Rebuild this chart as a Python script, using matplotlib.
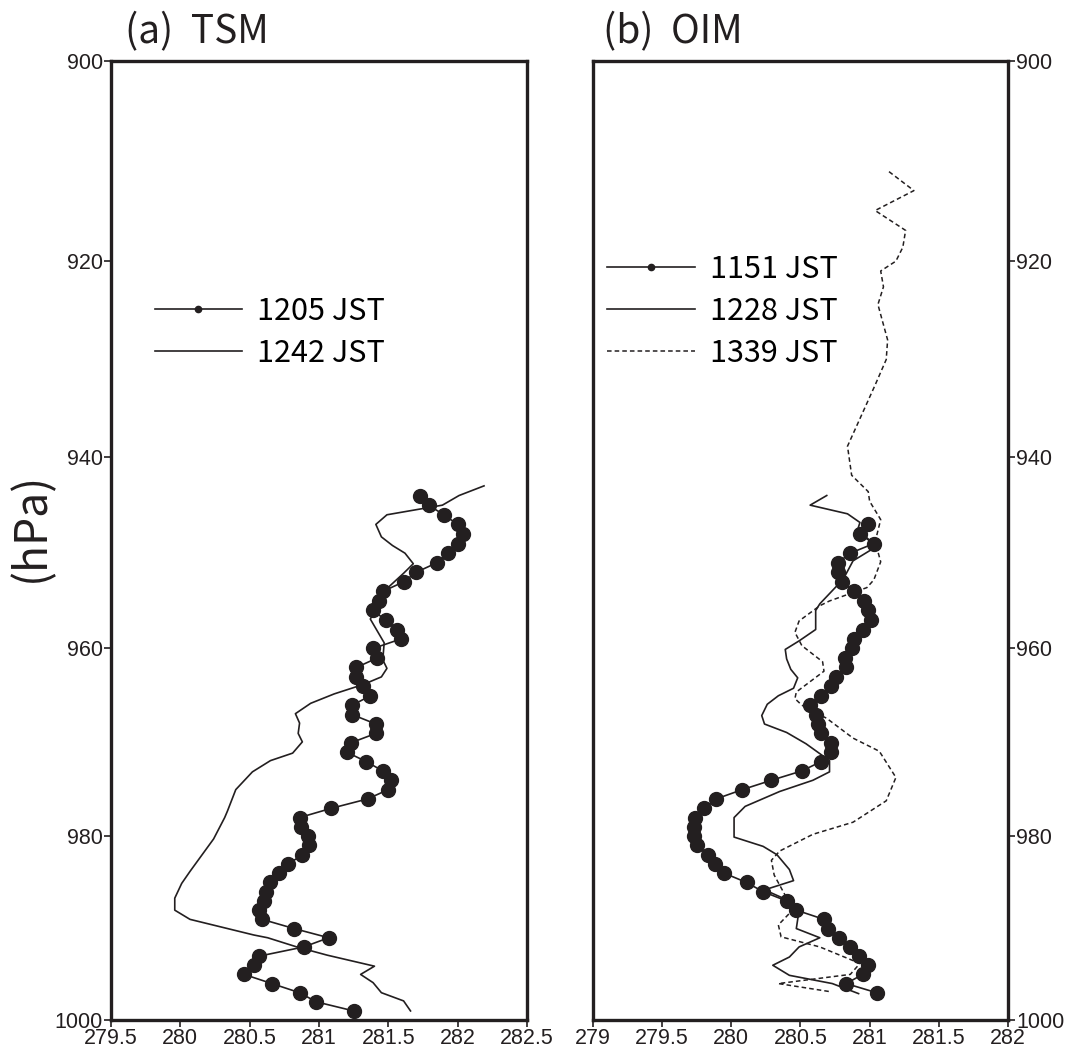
import matplotlib
matplotlib.use("Agg")
import matplotlib.pyplot as plt
import numpy as np
from matplotlib.ticker import FixedLocator, FixedFormatter, NullLocator

# ---- panel (a) TSM ----
p_1205 = list(range(944, 1000))
t_1205 = [281.73, 281.79, 281.90, 282.00, 282.04, 282.00, 281.93, 281.85, 281.70, 281.61,
          281.46, 281.43, 281.39, 281.48, 281.56, 281.59, 281.39, 281.42, 281.27, 281.27,
          281.32, 281.37, 281.24, 281.24, 281.41, 281.41, 281.23, 281.20, 281.34, 281.46,
          281.52, 281.50, 281.35, 281.09, 280.86, 280.87, 280.92, 280.93, 280.88, 280.78,
          280.71, 280.65, 280.62, 280.60, 280.57, 280.59, 280.82, 281.07, 280.89, 280.57,
          280.53, 280.46, 280.66, 280.86, 280.98, 281.25]

p_1242 = [943.0, 944.0, 945.0, 946.0, 947.0, 948.3, 949.2, 950.0, 951.1, 952.1, 953.7,
          956.9, 959.4, 961.2, 962.1, 963.0, 963.8, 964.8, 965.8, 966.9, 967.9, 969.0,
          969.9, 971.1, 971.9, 973.1, 975.0, 977.3, 978.0, 980.3, 983.8, 985.1, 986.7,
          988.0, 989.0, 990.7, 991.0, 992.0, 992.9, 994.1, 995.0, 995.9, 997.0, 997.9, 999.0]
t_1242 = [282.19, 282.01, 281.89, 281.49, 281.41, 281.45, 281.53, 281.62, 281.68, 281.61, 281.49,
          281.37, 281.47, 281.46, 281.49, 281.45, 281.32, 281.11, 280.94, 280.83, 280.86, 280.85,
          280.88, 280.81, 280.65, 280.52, 280.40, 280.34, 280.32, 280.24, 280.07, 280.01, 279.96,
          279.96, 280.07, 280.53, 280.63, 280.84, 281.06, 281.40, 281.30, 281.39, 281.45, 281.61, 281.66]

# ---- panel (b) OIM ----
p_1151 = list(range(947, 998))
t_1151 = [280.99, 280.93, 281.03, 280.86, 280.77, 280.77, 280.80, 280.89, 280.96, 280.99,
          281.01, 280.95, 280.89, 280.87, 280.82, 280.83, 280.76, 280.72, 280.65, 280.57,
          280.61, 280.63, 280.65, 280.72, 280.72, 280.65, 280.51, 280.29, 280.08, 279.89,
          279.80, 279.74, 279.73, 279.73, 279.75, 279.83, 279.88, 279.95, 280.11, 280.23,
          280.40, 280.47, 280.67, 280.70, 280.78, 280.86, 280.92, 280.99, 280.95, 280.83, 281.05]

p_1228 = [944.0, 945.0, 945.9, 946.8, 947.7, 948.4, 949.3, 950.8, 952.7, 955.3, 956.0,
          958.0, 959.2, 960.1, 961.1, 962.2, 963.1, 964.2, 965.0, 965.9, 967.1, 968.0,
          968.9, 970.1, 971.9, 973.1, 974.0, 975.2, 976.8, 978.0, 980.1, 981.1, 982.0,
          983.6, 984.8, 985.8, 986.8, 988.0, 990.0, 991.0, 992.0, 993.1, 994.0, 995.1,
          996.0, 997.1]
t_1228 = [280.69, 280.57, 280.84, 280.93, 280.91, 280.98, 281.05, 280.88, 280.81, 280.64, 280.61,
          280.61, 280.49, 280.39, 280.40, 280.43, 280.48, 280.45, 280.34, 280.26, 280.22, 280.24,
          280.40, 280.54, 280.71, 280.71, 280.59, 280.35, 280.10, 280.02, 280.02, 280.23, 280.33,
          280.42, 280.45, 280.24, 280.39, 280.49, 280.47, 280.64, 280.49, 280.42, 280.30, 280.42,
          280.73, 280.92]

p_1339 = [911.0, 912.9, 914.9, 916.9, 918.6, 920.0, 921.0, 922.6, 924.4, 928.0, 930.0,
          932.6, 938.9, 941.9, 943.6, 944.6, 946.5, 948.8, 950.9, 952.8, 953.6, 955.0,
          955.5, 957.1, 958.3, 959.7, 961.4, 962.4, 964.6, 965.3, 966.0, 967.4, 969.5,
          970.9, 973.7, 976.2, 978.5, 979.8, 981.6, 982.6, 984.2, 986.4, 988.2, 989.6,
          990.9, 992.0, 993.8, 995.0, 996.0, 996.9]
t_1339 = [281.14, 281.32, 281.04, 281.26, 281.24, 281.19, 281.08, 281.10, 281.06, 281.13, 281.12,
          281.04, 280.84, 280.87, 280.99, 281.00, 281.08, 281.04, 281.08, 281.03, 280.98, 280.71,
          280.64, 280.49, 280.46, 280.51, 280.66, 280.67, 280.47, 280.46, 280.51, 280.69, 280.88,
          281.07, 281.19, 281.12, 280.88, 280.59, 280.35, 280.29, 280.31, 280.39, 280.43, 280.34,
          280.36, 280.64, 280.93, 280.86, 280.34, 280.72]

p_ticks = [900, 920, 940, 960, 980, 1000]
xticks_a = [279.5, 280, 280.5, 281, 281.5, 282, 282.5]
xticks_b = [279, 279.5, 280, 280.5, 281, 281.5, 282]

# tick labels use the default family
plt.rcParams["font.family"] = ["Liberation Sans", "DejaVu Sans"]
text_font = ["Noto Sans CJK JP", "DejaVu Sans"]
ink = "#231f20"

fig = plt.figure(figsize=(10.69, 10.53), dpi=100)
ax_a = fig.add_axes([0.1038, 0.0313, 0.3892, 0.9107])
ax_b = fig.add_axes([0.5547, 0.0313, 0.3882, 0.9107])


def setup(ax, xticks, side):
    ax.set_yscale("log")
    ax.set_ylim(1000, 900)
    ax.set_xlim(xticks[0], xticks[-1])
    ax.yaxis.set_major_locator(FixedLocator(p_ticks))
    ax.yaxis.set_major_formatter(FixedFormatter([str(p) for p in p_ticks]))
    ax.yaxis.set_minor_locator(NullLocator())
    ax.set_xticks(xticks)
    ax.set_xticklabels(["%g" % v for v in xticks])
    for s in ax.spines.values():
        s.set_linewidth(2.4)
        s.set_color(ink)
    ax.tick_params(axis="both", direction="out", length=5, width=1.2,
                   labelsize=15.5, pad=1, colors=ink)
    if side == "right":
        ax.yaxis.tick_right()


setup(ax_a, xticks_a, "left")
setup(ax_b, xticks_b, "right")

leg_kw = dict(loc="upper left", frameon=False,
              prop={"family": text_font, "size": 22}, handlelength=2.85,
              handletextpad=0.5, labelspacing=0.36, markerscale=0.45,
              numpoints=1, borderaxespad=0, borderpad=0)

# panel (a)
ax_a.plot(t_1205, p_1205, "-o", color=ink, lw=1.2, ms=10, label="1205 JST")
ax_a.plot(t_1242, p_1242, "-", color=ink, lw=1.2, label="1242 JST")
ax_a.legend(bbox_to_anchor=(0.105, 0.755), **leg_kw)
ax_a.text(0.033, 1.019, "(a)  TSM", transform=ax_a.transAxes, fontsize=28,
          family=text_font, va="baseline", ha="left", color=ink)

# panel (b)
ax_b.plot(t_1151, p_1151, "-o", color=ink, lw=1.2, ms=10, label="1151 JST")
ax_b.plot(t_1228, p_1228, "-", color=ink, lw=1.2, label="1228 JST")
ax_b.plot(t_1339, p_1339, color=ink, lw=1.1, ls=(0, (3, 2)), label="1339 JST")
ax_b.legend(bbox_to_anchor=(0.035, 0.799), **leg_kw)
ax_b.text(0.025, 1.019, "(b)  OIM", transform=ax_b.transAxes, fontsize=28,
          family=text_font, va="baseline", ha="left", color=ink)

fig.text(31 / 1069, 0.5, "(hPa)", rotation=90, fontsize=32, family=text_font,
         ha="center", va="center", color=ink)

fig.savefig("out.png", dpi=100)
